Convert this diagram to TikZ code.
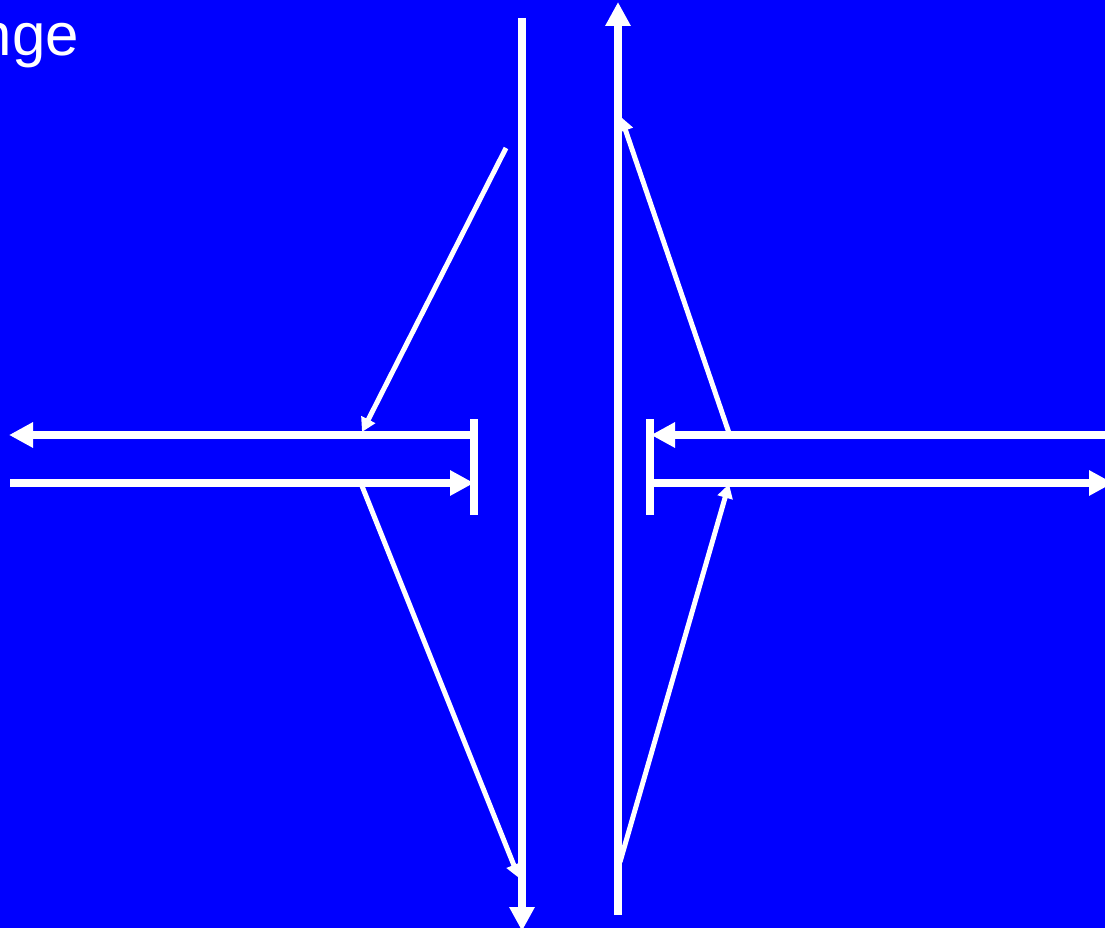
\documentclass[tikz,border=0pt]{standalone}
\usepackage{fontspec}
\setmainfont{Liberation Sans}
\usetikzlibrary{arrows.meta}
\definecolor{bg}{RGB}{0,0,255}
\begin{document}
\begin{tikzpicture}[x=1pt,y=-1pt,
  wline/.style={draw=white,line width=7.5pt},
  bigarrow/.style={wline,-{Triangle[length=24pt,width=24pt]}},
  smallarrow/.style={draw=white,line width=5pt,-{Triangle[length=14pt,width=15pt]}}]
\useasboundingbox (0,0) rectangle (1105,928);
\clip (0,0) rectangle (1105,928);
\fill[bg] (0,0) rectangle (1105,928);
\node[anchor=base east,inner sep=0pt,text=white,font=\fontsize{60}{62}\selectfont] (title) at (79,56) {nge};
% key points
\coordinate (LVtop) at (522,18);
\coordinate (LVbot) at (522,931);
\coordinate (RVbot) at (618,915);
\coordinate (RVtop) at (618,2);
\coordinate (LBt) at (474,419);
\coordinate (LBb) at (474,515);
\coordinate (RBt) at (650,419);
\coordinate (RBb) at (650,515);
\coordinate (LTa) at (474,435);
\coordinate (LTb) at (9,435);
\coordinate (LBa) at (10,483);
\coordinate (LBe) at (474,483);
\coordinate (RTa) at (1106,435);
\coordinate (RTb) at (651,435);
\coordinate (RBa) at (650,483);
\coordinate (RBe) at (1113,483);
\coordinate (D1s) at (506,148);
\coordinate (D1e) at (362,432);
\coordinate (D2s) at (362,486);
\coordinate (D2e) at (519,878);
\coordinate (D3s) at (729,433);
\coordinate (D3e) at (621,117);
\coordinate (D4s) at (620,862);
\coordinate (D4e) at (729,484);
% verticals
\draw[bigarrow] (LVtop) -- (LVbot);
\draw[bigarrow] (RVbot) -- (RVtop);
% bars
\draw[wline] (LBt) -- (LBb);
\draw[wline] (RBt) -- (RBb);
% horizontals
\draw[bigarrow] (LTa) -- (LTb);
\draw[bigarrow] (LBa) -- (LBe);
\draw[bigarrow] (RTa) -- (RTb);
\draw[bigarrow] (RBa) -- (RBe);
% diagonals
\draw[smallarrow] (D1s) -- (D1e);
\draw[smallarrow] (D2s) -- (D2e);
\draw[smallarrow] (D3s) -- (D3e);
\draw[smallarrow] (D4s) -- (D4e);
\end{tikzpicture}
\end{document}
